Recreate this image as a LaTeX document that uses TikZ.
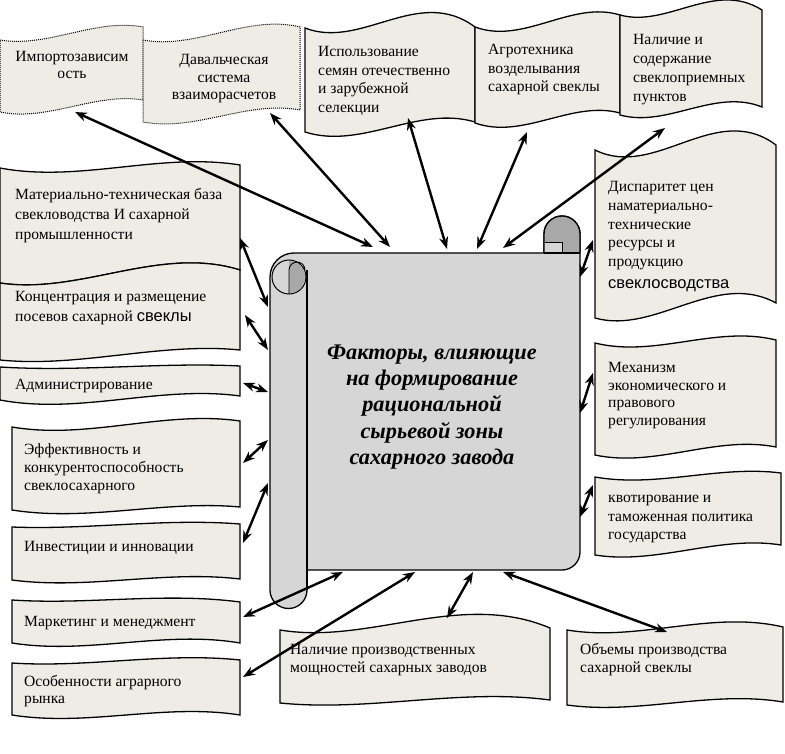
\documentclass[tikz,border=0pt]{standalone}
\usepackage{fontspec}
\setmainfont{Liberation Serif}
\newfontfamily\sansf{Liberation Sans}
\usetikzlibrary{arrows.meta}
\definecolor{boxfill}{RGB}{238,236,229}
\definecolor{scrollc}{RGB}{214,214,214}
\definecolor{rolldark}{RGB}{168,168,168}
\def\wbtop#1,#2,#3,#4;{\def\wta{#1}\def\wtb{#2}\def\wtc{#3}\def\wtd{#4}}
\def\wbbot#1,#2,#3,#4;{\def\wba{#1}\def\wbb{#2}\def\wbc{#3}\def\wbd{#4}}
\newcommand\wbox[5]{\wbtop#4;\wbbot#5;%
  \path[#1] (#2,\wta) .. controls ({#2+(#3-#2)/3},\wtb) and ({#2+2*(#3-#2)/3},\wtc) .. (#3,\wtd)
    -- (#3,\wbd) .. controls ({#2+2*(#3-#2)/3},\wbc) and ({#2+(#3-#2)/3},\wbb) .. (#2,\wba) -- cycle;}
\newcommand\tstrut{\rule{0pt}{12.5pt}}
\tikzset{
  wv/.style={draw=black, line width=1.3pt, fill=boxfill},
  wvdot/.style={draw=black, line width=1pt, densely dotted, fill=boxfill},
  lbl/.style={anchor=north west, inner sep=0pt, align=left, font=\fontsize{15.6}{#1}\selectfont},
  clbl/.style={anchor=north, inner sep=0pt, align=center, font=\fontsize{15.6}{#1}\selectfont},
  conn/.style={line width=2.4pt, {Stealth[length=12pt,width=9pt]}-{Stealth[length=12pt,width=9pt]}},
  scrl/.style={draw=black, line width=1.3pt, fill=scrollc},
}
\begin{document}
\begin{tikzpicture}[x=1pt,y=-1pt]
\useasboundingbox (0,0) rectangle (785,754);
\fill[white] (0,0) rectangle (785,754);
% top row
\wbox{wvdot}{0}{143}{40,48,18,27}{112,122,92,100}
\wbox{wvdot}{143}{300}{40,50,14,27}{122,132,100,110}
\wbox{wv}{305}{475}{28,50,-15,27}{132,150,105,122}
\wbox{wv}{475}{620}{27,45,0,15}{123,140,100,113}
\wbox{wv}{620}{762}{15,28,-20,10}{115,128,88,107}
% left column
\wbox{wv}{0}{240}{168,183,152,165}{283,295,245,270}
\wbox{wv}{0}{240}{283,295,245,270}{360,368,342,350}
\wbox{wv}{0}{240}{367,372,362,366}{400,415,385,396}
\wbox{wv}{12}{240}{427,440,410,421}{510,522,500,507}
\wbox{wv}{12}{240}{527,530,518,524}{580,590,570,579}
\wbox{wv}{12}{240}{600,605,592,602}{643,655,630,643}
\wbox{wv}{12}{240}{663,668,652,660}{715,727,703,715}
% right column
\wbox{wv}{595}{776}{150,180,100,145}{318,335,270,303}
\wbox{wv}{595}{776}{343,358,325,340}{455,468,435,447}
\wbox{wv}{595}{781}{477,488,465,473}{555,565,535,545}
% bottom row
\wbox{wv}{280}{550}{630,645,590,628}{703,712,688,700}
\wbox{wv}{567}{783}{630,642,610,627}{705,715,690,702}
% scroll
\path[scrl] (270,590) -- (270,277) arc[start angle=180,end angle=270,radius=24]
  -- (544,253) -- (544,234) arc[start angle=180,end angle=360,radius=18]
  -- (580,552) arc[start angle=0,end angle=90,radius=18]
  -- (307,570) -- (307,590) arc[start angle=0,end angle=180,radius=18.5] -- cycle;
\fill[rolldark] (544,253) -- (544,234) arc[start angle=180,end angle=360,radius=18] -- (580,253) -- cycle;
\fill[scrollc] (544,242) rectangle (562,253);
\draw[line width=1.3pt] (544,253) -- (544,234) arc[start angle=180,end angle=360,radius=18] -- (580,253);
\draw[line width=0.9pt] (545,242) -- (562,242) -- (562,253);
\draw[line width=1.3pt] (544,253) -- (580,253);
\draw[line width=1.3pt] (307,270) -- (307,590);
\path[draw=black, line width=1pt, fill=scrollc] (289,277) circle[radius=17];
\fill[rolldark] (289,261) arc[start angle=270,end angle=450,radius=16] -- cycle;
\draw[line width=0.9pt] (289,294) -- (289,270) arc[start angle=180,end angle=360,radius=8];
% texts
\node[clbl=16.5] (imp) at (72,49) {\tstrut Импортозависим\\ость};
\node[clbl=17.5] (dav) at (224,52) {\tstrut Давальческая\\система\\взаиморасчетов};
\node[lbl=18.5] (isp) at (318,44) {\tstrut Использование\\семян отечественно\\и зарубежной\\селекции};
\node[lbl=18.5] (agr) at (488,42) {\tstrut Агротехника\\возделывания\\сахарной свеклы};
\node[lbl=19] (nal) at (633,32) {\tstrut Наличие и\\содержание\\свеклоприемных\\пунктов};
\node[lbl=20] (mat) at (15,187) {\tstrut Материально-техническая база\\свекловодства И сахарной\\промышленности};
\node[lbl=20] (kon) at (15,289) {\tstrut Концентрация и размещение\\посевов сахарной {\sansf\fontsize{16.5}{20}\selectfont свеклы}};
\node[lbl=18.5] (adm) at (15,377) {\tstrut Администрирование};
\node[lbl=18] (eff) at (24,442) {\tstrut Эффективность и\\конкурентоспособность\\свеклосахарного};
\node[lbl=18.5] (inv) at (24,539) {\tstrut Инвестиции и инновации};
\node[lbl=18.5] (mar) at (24,614) {\tstrut Маркетинг и менеджмент};
\node[lbl=16.5] (osb) at (24,674) {\tstrut Особенности аграрного\\рынка};
\node[lbl=18.7] (dis) at (608,179) {\tstrut Диспаритет цен\\наматериально-\\технические\\ресурсы и\\продукцию\\[3pt]{\sansf\fontsize{16.5}{22}\selectfont свеклосводства}};
\node[lbl=17.5] (mex) at (608,360) {\tstrut Механизм\\экономического и\\правового\\регулирования};
\node[lbl=18.5] (kvo) at (608,490) {\tstrut квотирование и\\таможенная политика\\государства};
\node[lbl=18] (npr) at (290,642) {\tstrut Наличие производственных\\мощностей сахарных заводов};
\node[lbl=18] (obm) at (580,642) {\tstrut Объемы производства\\сахарной свеклы};
\node[font=\fontsize{22.3}{26.3}\selectfont\bfseries\itshape, align=center, inner sep=0pt] (ctr) at (432,407)
  {Факторы, влияющие\\на формирование\\рациональной\\сырьевой зоны\\сахарного завода};
% connector end points
\coordinate (e-imp) at (75,112);   \coordinate (s-imp) at (373,247);
\coordinate (e-dav) at (270,113);  \coordinate (s-dav) at (390,247);
\coordinate (e-isp) at (408,118);  \coordinate (s-isp) at (447,249);
\coordinate (e-agr) at (527,132);  \coordinate (s-agr) at (477,249);
\coordinate (e-nal) at (665,128);  \coordinate (s-nal) at (503,248);
\coordinate (e-mat) at (240,238);  \coordinate (s-mat) at (268,307);
\coordinate (e-kon) at (245,315);  \coordinate (s-kon) at (268,350);
\coordinate (e-adm) at (243,383);  \coordinate (s-adm) at (268,392);
\coordinate (e-eff) at (243,463);  \coordinate (s-eff) at (268,440);
\coordinate (e-inv) at (243,543);  \coordinate (s-inv) at (268,483);
\coordinate (e-mar) at (243,617);  \coordinate (s-mar) at (343,572);
\coordinate (e-osb) at (243,677);  \coordinate (s-osb) at (415,572);
\coordinate (e-npr) at (447,618);  \coordinate (s-npr) at (473,572);
\coordinate (e-obm) at (667,632);  \coordinate (s-obm) at (503,572);
\coordinate (e-dis) at (593,240);  \coordinate (s-dis) at (580,277);
\coordinate (e-mex) at (593,373);  \coordinate (s-mex) at (580,413);
\coordinate (e-kvo) at (593,485);  \coordinate (s-kvo) at (580,517);
\foreach \n in {imp,dav,isp,agr,nal,mat,kon,adm,eff,inv,mar,osb,npr,obm,dis,mex,kvo}
  \draw[conn] (e-\n) -- (s-\n);
\end{tikzpicture}
\end{document}
